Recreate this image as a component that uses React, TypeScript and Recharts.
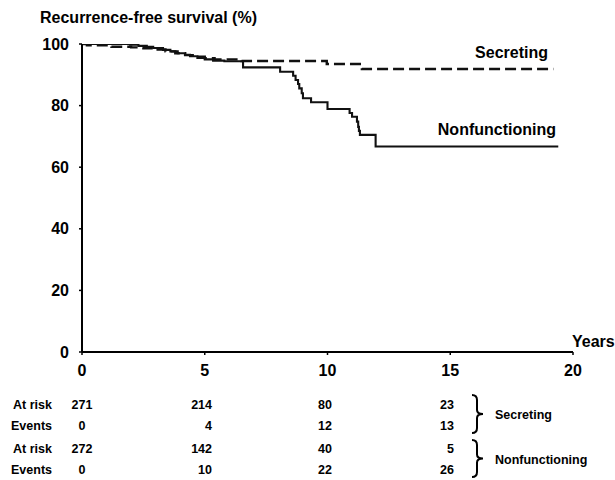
import { Line, LineChart, XAxis, YAxis } from "recharts";

// Kaplan-Meier steps (years, % recurrence-free)
const secretingYears = [0, 0.2, 1.2, 2.0, 2.5, 3.0, 3.4, 3.8, 4.2, 4.6, 5.0, 5.4, 6.5, 9.97, 11.4, 19.2];
const secretingSurvival = [100, 99.6, 99.1, 98.9, 98.6, 98.2, 97.6, 97.0, 96.4, 95.9, 95.4, 95.0, 94.5, 93.5, 91.9, 91.9];

const nonfunctioningYears = [
  0, 1.96, 2.3, 2.64, 2.9, 3.3, 3.6, 3.9, 4.2, 4.4, 4.7, 5.0, 5.34, 5.8, 6.56, 8.07, 8.6, 8.7, 8.8,
  8.85, 8.95, 9.0, 9.33, 10.0, 10.9, 11.0, 11.2, 11.25, 11.28, 11.32, 11.96, 19.4,
];
const nonfunctioningSurvival = [
  100, 99.8, 99.4, 99.1, 98.7, 98.1, 97.6, 97.0, 96.5, 96.0, 95.5, 95.0, 94.6, 94.4, 92.4, 91.0, 89.7,
  88.3, 87.0, 85.6, 84.0, 82.4, 81.1, 78.9, 77.6, 76.4, 74.8, 73.1, 71.8, 70.5, 66.7, 66.7,
];

const xTicks = [0, 5, 10, 15, 20];
const yTicks = [0, 20, 40, 60, 80, 100];

// numbers-at-risk table
const tableYears = [0, 5, 10, 15];
const secretingAtRisk = [271, 214, 80, 23];
const secretingEvents = [0, 4, 12, 13];
const nonfunctioningAtRisk = [272, 142, 40, 5];
const nonfunctioningEvents = [0, 10, 22, 26];

const secretingData = secretingYears.map((t, i) => ({ t, s: secretingSurvival[i] }));
const nonfunctioningData = nonfunctioningYears.map((t, i) => ({ t, s: nonfunctioningSurvival[i] }));

const FONT = '"Liberation Sans", Arial, Helvetica, sans-serif';
const tickStyle = { fill: "#000", fontSize: 16, fontWeight: 700, fontFamily: FONT };

const colX = [82, 212, 332, 454];
const colAnchor = ["middle", "end", "end", "end"] as const;

function Brace({ x, y1, y2 }: { x: number; y1: number; y2: number }) {
  const ym = (y1 + y2) / 2;
  const d = `M ${x} ${y1} Q ${x + 5} ${y1} ${x + 5} ${y1 + 5} L ${x + 5} ${ym - 4} Q ${x + 5} ${ym} ${x + 11} ${ym} Q ${x + 5} ${ym} ${x + 5} ${ym + 4} L ${x + 5} ${y2 - 5} Q ${x + 5} ${y2} ${x} ${y2}`;
  return <path d={d} fill="none" stroke="#000" strokeWidth={2} />;
}

function TableRow({ label, values, y }: { label: string; values: number[]; y: number }) {
  return (
    <g>
      <text x={52} y={y} textAnchor="end" dominantBaseline="central">
        {label}
      </text>
      {tableYears.map((yr, i) => (
        <text key={yr} x={colX[i]} y={y} textAnchor={colAnchor[i]} dominantBaseline="central">
          {values[i]}
        </text>
      ))}
    </g>
  );
}

export default function App() {
  return (
    <div
      style={{
        position: "absolute",
        left: 0,
        top: 0,
        width: 615,
        height: 480,
        background: "#fff",
        fontFamily: FONT,
      }}
    >
      <LineChart width={615} height={480} margin={{ top: 44, right: 42, left: 42, bottom: 98 }}>
        <XAxis
          type="number"
          dataKey="t"
          domain={[0, 20]}
          ticks={xTicks}
          height={30}
          tick={tickStyle}
          tickSize={3}
          tickMargin={10}
          axisLine={{ stroke: "#000", strokeWidth: 2 }}
          tickLine={{ stroke: "#000", strokeWidth: 1.5 }}
          allowDataOverflow
        />
        <YAxis
          type="number"
          dataKey="s"
          domain={[0, 100]}
          ticks={yTicks}
          width={40}
          tick={tickStyle}
          tickSize={3}
          tickMargin={10}
          axisLine={{ stroke: "#000", strokeWidth: 2 }}
          tickLine={{ stroke: "#000", strokeWidth: 1.5 }}
          allowDataOverflow
        />
        <Line
          data={secretingData}
          dataKey="s"
          type="stepAfter"
          stroke="#111"
          strokeWidth={2.4}
          strokeDasharray="11 5"
          dot={false}
          isAnimationActive={false}
        />
        <Line
          data={nonfunctioningData}
          dataKey="s"
          type="stepAfter"
          stroke="#111"
          strokeWidth={2.1}
          dot={false}
          isAnimationActive={false}
        />
      </LineChart>

      <svg
        width={615}
        height={480}
        style={{ position: "absolute", left: 0, top: 0, pointerEvents: "none" }}
        fontFamily={FONT}
        fontWeight={700}
        fill="#000"
      >
        <text x={40} y={23} fontSize={16}>
          Recurrence-free survival (%)
        </text>
        <text x={572} y={347} fontSize={16}>
          Years
        </text>
        <text x={548} y={58} fontSize={16} textAnchor="end">
          Secreting
        </text>
        <text x={556} y={135} fontSize={16} textAnchor="end">
          Nonfunctioning
        </text>

        <g fontSize={12.5}>
          <TableRow label="At risk" values={secretingAtRisk} y={405} />
          <TableRow label="Events" values={secretingEvents} y={426} />
          <TableRow label="At risk" values={nonfunctioningAtRisk} y={449} />
          <TableRow label="Events" values={nonfunctioningEvents} y={470} />
          <Brace x={472} y1={395} y2={433} />
          <Brace x={472} y1={440} y2={477} />
          <text x={495} y={415} dominantBaseline="central">
            Secreting
          </text>
          <text x={495} y={460} dominantBaseline="central">
            Nonfunctioning
          </text>
        </g>
      </svg>
    </div>
  );
}
